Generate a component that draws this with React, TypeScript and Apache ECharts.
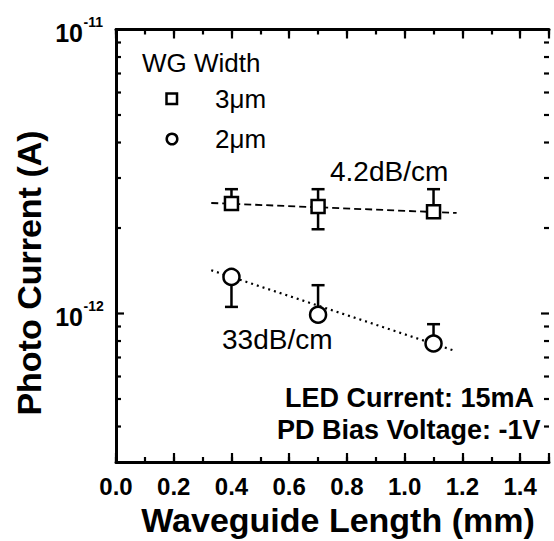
import React, { useEffect, useRef } from "react";
import * as echarts from "echarts";

// ---- data ----
const xLen = [0.4, 0.7, 1.1];
const w3Mean = [2.44e-12, 2.38e-12, 2.28e-12];
const w3Low = [2.33e-12, 1.98e-12, 2.2e-12];
const w3High = [2.74e-12, 2.74e-12, 2.74e-12];
const w2Mean = [1.345e-12, 0.99e-12, 0.784e-12];
const w2Low = [1.055e-12, 0.99e-12, 0.784e-12];
const w2High = [1.345e-12, 1.258e-12, 0.917e-12];
const fit3X = [0.33, 1.18];
const fit3Y = [2.45e-12, 2.26e-12];
const fit2X = [0.33, 1.168];
const fit2Y = [1.42e-12, 0.742e-12];
const yMajorTicks = [1e-12, 1e-11];
const yMajorExp = [-12, -11];
const yMinorTicks = [
  4e-13, 5e-13, 6e-13, 7e-13, 8e-13, 9e-13,
  2e-12, 3e-12, 4e-12, 5e-12, 6e-12, 7e-12, 8e-12, 9e-12,
];
const X_MIN = 0;
const X_MAX = 1.5;
const Y_MIN = 3e-13;
const Y_MAX = 1e-11;

const FF = '"Liberation Sans", Arial, Helvetica, sans-serif';

export default function App() {
  const ref = useRef<HTMLDivElement>(null);
  useEffect(() => {
    document.body.style.margin = "0";
    const chart = echarts.init(ref.current!, null, { renderer: "svg" });

    const tickData = [
      ...yMajorTicks.map((v, i) => [0, v, 1, yMajorExp[i]]),
      ...yMinorTicks.map((v) => [0, v, 0, 0]),
    ];

    const frameLine = { show: true, lineStyle: { color: "#000", width: 3 } };

    const xAxisBase = (position: string, interval: number, len: number, labels: boolean, line: boolean) => ({
      type: "value",
      position,
      min: X_MIN,
      max: X_MAX,
      interval,
      axisLine: line ? frameLine : { show: false },
      splitLine: { show: false },
      axisTick: { show: true, inside: true, length: len, lineStyle: { color: "#000", width: 2.2 } },
      axisLabel: labels
        ? {
            show: true,
            margin: 12,
            color: "#000",
            fontSize: 24,
            fontWeight: "bold",
            fontFamily: FF,
            formatter: (v: number) => (Math.round(v * 10) % 2 === 0 ? v.toFixed(1) : ""),
          }
        : { show: false },
    });

    const yAxisBase = (position: string) => ({
      type: "log",
      logBase: 10,
      position,
      min: Y_MIN,
      max: Y_MAX,
      axisLine: frameLine,
      axisTick: { show: false },
      axisLabel: { show: false },
      splitLine: { show: false },
    });

    const option: any = {
      animation: false,
      grid: {
        left: 116,
        right: 5,
        top: 29.5,
        bottom: 79,
        show: false,
      },
      xAxis: [
        xAxisBase("bottom", 0.1, 5, true, true),
        xAxisBase("bottom", 0.2, 9, false, false),
        xAxisBase("top", 0.1, 5, false, true),
        xAxisBase("top", 0.2, 9, false, false),
      ],
      yAxis: [yAxisBase("left"), yAxisBase("right")],
      series: [
        {
          type: "custom",
          name: "yTicks",
          silent: true,
          z: 5,
          data: tickData,
          renderItem: (params: any, api: any) => {
            const v = api.value(1);
            const major = api.value(2) === 1;
            const pl = api.coord([X_MIN, v]);
            const pr = api.coord([X_MAX, v]);
            const len = major ? 8 : 5;
            const ls = { stroke: "#000", lineWidth: 2.2 };
            const children: any[] = [
              { type: "line", shape: { x1: pl[0], y1: pl[1], x2: pl[0] + len, y2: pl[1] }, style: ls },
              { type: "line", shape: { x1: pr[0] - len, y1: pr[1], x2: pr[0], y2: pr[1] }, style: ls },
            ];
            if (major) {
              const exp = api.value(3);
              children.push({
                type: "text",
                x: pl[0] - 33,
                y: pl[1] + 3,
                style: {
                  text: "10",
                  fill: "#000",
                  font: `bold 25px ${FF}`,
                  align: "right",
                  textAlign: "right",
                  verticalAlign: "middle",
                  textVerticalAlign: "middle",
                },
              });
              children.push({
                type: "text",
                x: pl[0] - 32.5,
                y: pl[1] - 8,
                style: {
                  text: String(exp),
                  fill: "#000",
                  font: `bold 14px ${FF}`,
                  align: "left",
                  textAlign: "left",
                  verticalAlign: "middle",
                  textVerticalAlign: "middle",
                },
              });
            }
            return { type: "group", children };
          },
        },
        {
          type: "line",
          name: "fit3",
          data: fit3X.map((x, i) => [x, fit3Y[i]]),
          symbol: "none",
          z: 2,
          lineStyle: { color: "#000", width: 1.8, type: [7, 4] },
        },
        {
          type: "line",
          name: "fit2",
          data: fit2X.map((x, i) => [x, fit2Y[i]]),
          symbol: "none",
          z: 2,
          lineStyle: { color: "#000", width: 2.2, type: [2, 4] },
        },
        ...[
          { low: w3Low, high: w3High, name: "err3" },
          { low: w2Low, high: w2High, name: "err2" },
        ].map((e) => ({
          type: "custom",
          name: e.name,
          z: 3,
          data: xLen.map((x, i) => [x, e.low[i], e.high[i]]),
          renderItem: (params: any, api: any) => {
            const x = api.value(0);
            const lo = api.coord([x, api.value(1)]);
            const hi = api.coord([x, api.value(2)]);
            const cw = 6.5;
            const ls = { stroke: "#000", lineWidth: 2.5 };
            return {
              type: "group",
              children: [
                { type: "line", shape: { x1: lo[0], y1: lo[1], x2: hi[0], y2: hi[1] }, style: ls },
                { type: "line", shape: { x1: lo[0] - cw, y1: lo[1], x2: lo[0] + cw, y2: lo[1] }, style: ls },
                { type: "line", shape: { x1: hi[0] - cw, y1: hi[1], x2: hi[0] + cw, y2: hi[1] }, style: ls },
              ],
            };
          },
        })),
        {
          type: "scatter",
          name: "3μm",
          symbol: "rect",
          symbolSize: 13,
          z: 4,
          data: xLen.map((x, i) => [x, w3Mean[i]]),
          itemStyle: { color: "#fff", borderColor: "#000", borderWidth: 2.5, opacity: 1 },
        },
        {
          type: "scatter",
          name: "2μm",
          symbol: "circle",
          symbolSize: 16,
          z: 4,
          data: xLen.map((x, i) => [x, w2Mean[i]]),
          itemStyle: { color: "#fff", borderColor: "#000", borderWidth: 2.5, opacity: 1 },
        },
      ],
      graphic: [
        {
          type: "text",
          x: 29,
          y: 273,
          rotation: Math.PI / 2,
          style: {
            text: "Photo Current (A)",
            fill: "#000",
            font: `bold 34px ${FF}`,
            align: "center",
            textAlign: "center",
            verticalAlign: "middle",
            textVerticalAlign: "middle",
          },
        },
        {
          type: "text",
          x: 338,
          y: 520,
          style: {
            text: "Waveguide Length (mm)",
            fill: "#000",
            font: `bold 34px ${FF}`,
            align: "center",
            textAlign: "center",
            verticalAlign: "middle",
            textVerticalAlign: "middle",
          },
        },
        {
          type: "text",
          x: 142,
          y: 63,
          style: { text: "WG Width", fill: "#000", font: `26px ${FF}`, verticalAlign: "middle", textVerticalAlign: "middle" },
        },
        {
          type: "rect",
          x: 166.5,
          y: 93.5,
          shape: { width: 10.5, height: 10.5 },
          style: { fill: "#fff", stroke: "#000", lineWidth: 2.5 },
        },
        {
          type: "text",
          x: 215,
          y: 99,
          style: { text: "3μm", fill: "#000", font: `26px ${FF}`, verticalAlign: "middle", textVerticalAlign: "middle" },
        },
        {
          type: "circle",
          x: 172,
          y: 139,
          shape: { cx: 0, cy: 0, r: 5.3 },
          style: { fill: "#fff", stroke: "#000", lineWidth: 2.5 },
        },
        {
          type: "text",
          x: 215,
          y: 139,
          style: { text: "2μm", fill: "#000", font: `26px ${FF}`, verticalAlign: "middle", textVerticalAlign: "middle" },
        },
        {
          type: "text",
          x: 330,
          y: 171,
          style: { text: "4.2dB/cm", fill: "#000", font: `28px ${FF}`, verticalAlign: "middle", textVerticalAlign: "middle" },
        },
        {
          type: "text",
          x: 222,
          y: 339,
          style: { text: "33dB/cm", fill: "#000", font: `28px ${FF}`, verticalAlign: "middle", textVerticalAlign: "middle" },
        },
        {
          type: "text",
          x: 285,
          y: 398,
          style: { text: "LED Current: 15mA", fill: "#000", font: `bold 27px ${FF}`, verticalAlign: "middle", textVerticalAlign: "middle" },
        },
        {
          type: "text",
          x: 277,
          y: 430,
          style: { text: "PD Bias Voltage: -1V", fill: "#000", font: `bold 27px ${FF}`, verticalAlign: "middle", textVerticalAlign: "middle" },
        },
      ],
    };
    chart.setOption(option);
    return () => chart.dispose();
  }, []);
  return <div ref={ref} style={{ width: 554, height: 541 }} />;
}
